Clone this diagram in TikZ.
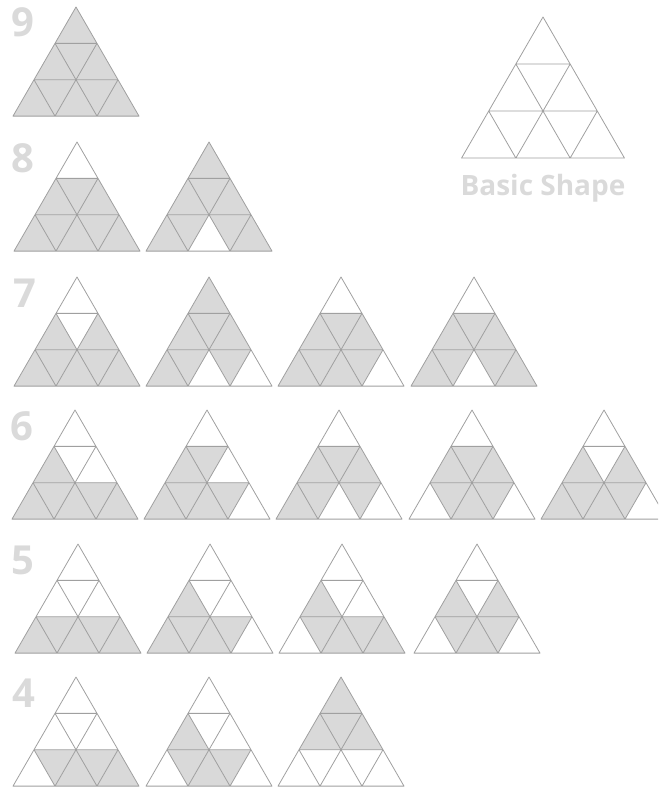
\documentclass[tikz,border=0pt]{standalone}
\usepackage{fontspec}
\setmainfont{Open Sans}
\definecolor{ln}{HTML}{A0A0A0}
\definecolor{cf}{HTML}{D9D9D9}
\definecolor{lbl}{HTML}{DADADA}
\tikzset{
  gridline/.style={draw=ln,line width=0.8pt,line join=round},
  cellfill/.style={fill=cf},
  numlabel/.style={text=lbl,font=\fontsize{40}{40}\selectfont\bfseries,inner sep=0pt,anchor=base west},
  titlelabel/.style={text=lbl,font=\fontsize{28}{28}\selectfont\bfseries,inner sep=0pt,anchor=base}
}
\newcommand\tricell[1]{\ifcase#1\or
 \fill[cellfill] (0,0)--(-.5,.866)--(.5,.866)--cycle;\or
 \fill[cellfill] (-.5,.866)--(-1,1.732)--(0,1.732)--cycle;\or
 \fill[cellfill] (-.5,.866)--(.5,.866)--(0,1.732)--cycle;\or
 \fill[cellfill] (.5,.866)--(0,1.732)--(1,1.732)--cycle;\or
 \fill[cellfill] (-1,1.732)--(-1.5,2.598)--(-.5,2.598)--cycle;\or
 \fill[cellfill] (-1,1.732)--(0,1.732)--(-.5,2.598)--cycle;\or
 \fill[cellfill] (0,1.732)--(-.5,2.598)--(.5,2.598)--cycle;\or
 \fill[cellfill] (0,1.732)--(1,1.732)--(.5,2.598)--cycle;\or
 \fill[cellfill] (1,1.732)--(.5,2.598)--(1.5,2.598)--cycle;\fi}
\newcommand\tri[4]{%
 \begin{scope}[shift={(#1,#2)},scale=#3]
 \foreach \c in {#4}{\tricell{\c}}
 \draw[gridline] (0,0)--(-1.5,2.598)--(1.5,2.598)--cycle
   (-.5,.866)--(.5,.866) (-1,1.732)--(1,1.732)
   (.5,.866)--(-.5,2.598) (1,1.732)--(.5,2.598)
   (-.5,.866)--(.5,2.598) (-1,1.732)--(-.5,2.598);
 \end{scope}}
\begin{document}
\begin{tikzpicture}[x=1pt,y=-1pt]
\useasboundingbox (0,0) rectangle (658,789);
\clip (0,0) rectangle (658,789);
% labels
\node[numlabel] (n9) at (11,37) {9};
\node[numlabel] (n8) at (11,172) {8};
\node[numlabel] (n7) at (13,307) {7};
\node[numlabel] (n6) at (10,440) {6};
\node[numlabel] (n5) at (11,574) {5};
\node[numlabel] (n4) at (12,707) {4};
\node[titlelabel] (bs) at (543,195) {Basic Shape};
% basic shape
\tri{543}{17}{54.3}{0}
% 9
\tri{76}{7}{42}{1,2,3,4,5,6,7,8,9}
% 8
\tri{77}{142}{42}{2,3,4,5,6,7,8,9}
\tri{209}{142}{42}{1,2,3,4,5,6,8,9}
% 7
\tri{77}{277}{42}{2,4,5,6,7,8,9}
\tri{209}{277}{42}{1,2,3,4,5,6,8}
\tri{341}{277}{42}{2,3,4,5,6,7,8}
\tri{474}{277}{42}{2,3,4,5,6,8,9}
% 6
\tri{75}{410}{42}{2,5,6,7,8,9}
\tri{207}{410}{42}{2,3,5,6,7,8}
\tri{339}{410}{42}{2,3,4,5,6,8}
\tri{472}{410}{42}{2,3,4,6,7,8}
\tri{604}{410}{42}{2,4,5,6,7,8}
% 5
\tri{78}{544}{42}{5,6,7,8,9}
\tri{210}{544}{42}{2,5,6,7,8}
\tri{342}{544}{42}{2,6,7,8,9}
\tri{477}{544}{42}{2,4,6,7,8}
% 4
\tri{76}{677}{42}{6,7,8,9}
\tri{209}{677}{42}{2,6,7,8}
\tri{341}{677}{42}{1,2,3,4}
\end{tikzpicture}
\end{document}
